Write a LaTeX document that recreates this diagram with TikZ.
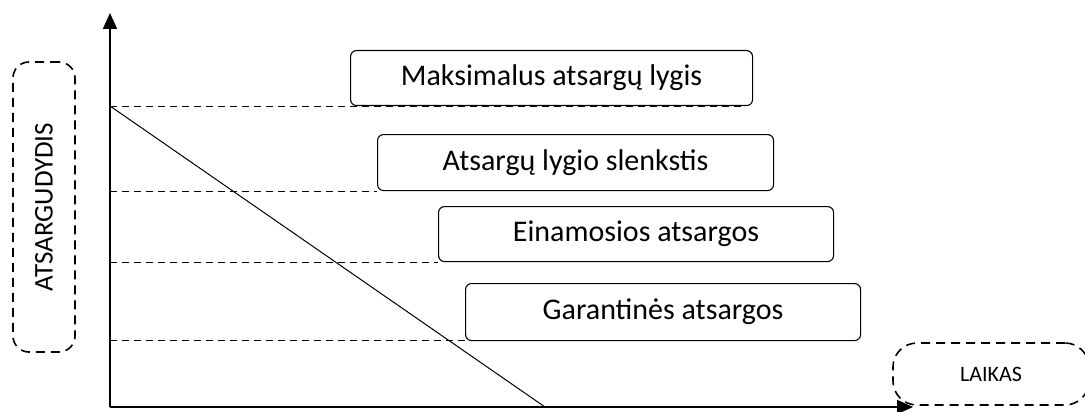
\documentclass[tikz,border=0pt]{standalone}
\usepackage{fontspec}
\setmainfont{Carlito}
\usetikzlibrary{arrows.meta}
\tikzset{
  lbl/.style={draw, rounded corners=6pt, line width=1.1pt, minimum height=55pt, inner sep=0pt, font=\fontsize{30}{34}\selectfont, anchor=north west},
  guide/.style={dashed, dash pattern=on 7pt off 5pt, line width=0.9pt},
  axis/.style={line width=2pt, -{Triangle[length=16pt,width=14pt]}},
  bubble/.style={draw, dashed, dash pattern=on 9pt off 6pt, line width=1.6pt, rounded corners=16pt}
}
\begin{document}
\begin{tikzpicture}[x=1pt,y=-1pt]
\useasboundingbox (0,0) rectangle (1085,412);
\coordinate (O) at (110,407);
\coordinate (Ytop) at (110,13);
\coordinate (Xend) at (913,407);
\draw[axis] (O) -- (Ytop);
\draw[axis] (O) -- (Xend);
% boxes
\node[lbl, minimum width=402pt] (max) at (350,50) {Maksimalus atsargų lygis};
\node[lbl, minimum width=396pt, minimum height=56pt] (sl) at (377,134) {Atsargų lygio slenkstis};
\node[lbl, minimum width=395pt] (ein) at (438,206) {Einamosios atsargos};
\node[lbl, minimum width=395pt, minimum height=57pt] (gar) at (465,283) {Garantinės atsargos};
% guides
\coordinate (g1) at (110,106);
\coordinate (g1e) at (745,106);
\coordinate (g2) at (110,191);
\coordinate (g3) at (110,262);
\coordinate (g4) at (110,340);
\draw[guide] (g1) -- (g1e);
\draw[guide] (g2) -- (g2 -| sl.west);
\draw[guide] (g3) -- (g3 -| ein.west);
\draw[guide] (g4) -- (g4 -| gar.west);
% diagonal
\coordinate (dEnd) at (545,407);
\draw[line width=1pt] (g1) -- (dEnd);
% side labels
\node[bubble, minimum width=62pt, minimum height=290pt] (yl) at (44,207) {};
\node[rotate=90, font=\fontsize{27}{30}\selectfont] at (yl) {ATSARGUDYDIS};
\node[bubble, rounded corners=24pt, minimum width=196pt, minimum height=62pt] (xl) at (991,374) {};
\node[font=\fontsize{22}{26}\selectfont] at (xl) {LAIKAS};
\end{tikzpicture}
\end{document}
